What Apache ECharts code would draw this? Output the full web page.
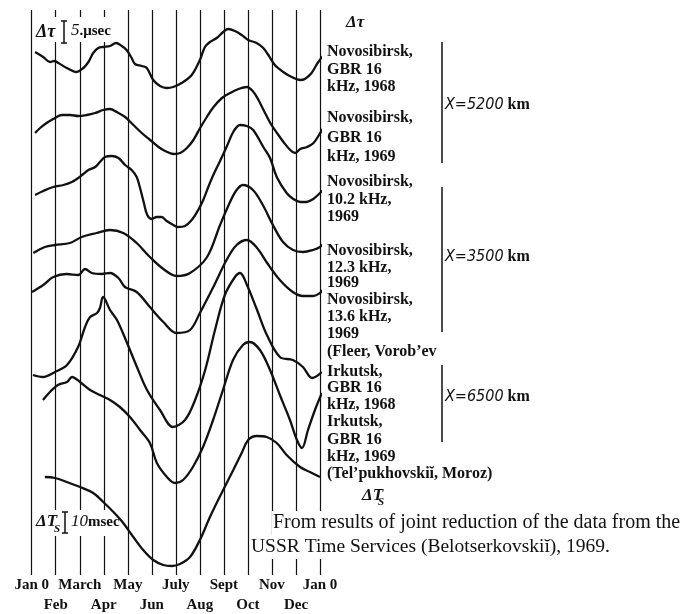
<!DOCTYPE html>
<html><head><meta charset="utf-8">
<script src="https://cdn.jsdelivr.net/npm/echarts/dist/echarts.min.js"></script>
<style>html,body{margin:0;padding:0;background:#fff}#c{width:692px;height:614px}</style>
</head><body><div id="c"></div>
<script>
// Month tick labels (Jan 0 .. Jan 0), x in months
const monthLabels = ['Jan 0','Feb','March','Apr','May','Jun','July','Aug','Sept','Oct','Nov','Dec','Jan 0'];

// Curves: [month, relative level] (arbitrary offset units, up = larger)
const novGBR1968 = [[0.14,523],[0.48,518],[0.76,513],[0.94,514],[1.11,512],[1.46,507],[1.87,503],[2.15,507],[2.36,513],[2.56,522],[2.77,527],[2.98,528],[3.26,529],[3.51,532],[3.75,529],[3.95,525],[4.16,517],[4.30,511],[4.58,509],[4.79,507],[5.06,495],[5.34,489],[5.62,487],[5.89,488],[6.24,492],[6.66,500],[7.00,515],[7.21,528],[7.42,533],[7.70,537],[7.97,543],[8.18,546],[8.46,544],[8.74,540],[9.01,535],[9.36,532],[9.64,527],[9.85,520],[10.12,510],[10.47,503],[10.82,498],[11.17,495],[11.37,496],[11.65,502],[11.93,513],[12.21,520],[12.29,520]];
const novGBR1969 = [[0.14,442],[0.35,447],[0.62,452],[0.90,456],[1.25,460],[1.60,460],[1.94,459],[2.29,460],[2.64,462],[2.98,465],[3.26,466],[3.54,463],[3.89,458],[4.23,450],[4.58,442],[4.93,435],[5.28,428],[5.55,424],[5.90,421],[6.18,422],[6.46,427],[6.73,435],[7.01,447],[7.29,458],[7.57,468],[7.92,477],[8.26,482],[8.61,486],[8.96,488],[9.23,483],[9.44,475],[9.65,465],[9.93,452],[10.21,442],[10.48,433],[10.76,425],[10.97,422],[11.18,426],[11.46,428],[11.73,432],[12.01,442],[12.22,450]];
const nov102 = [[0.14,380],[0.48,384],[0.90,388],[1.32,390],[1.67,393],[1.94,397],[2.15,401],[2.36,405],[2.64,408],[2.84,413],[3.05,418],[3.33,419],[3.61,417],[3.89,410],[4.16,405],[4.37,398],[4.51,387],[4.67,372],[4.81,360],[5.00,356],[5.20,358],[5.41,358],[5.62,354],[5.90,350],[6.10,348],[6.38,349],[6.66,355],[6.93,365],[7.14,375],[7.35,388],[7.56,400],[7.84,414],[8.11,428],[8.39,443],[8.67,450],[8.95,449],[9.22,445],[9.64,428],[9.92,417],[10.20,398],[10.61,382],[10.89,376],[11.17,373],[11.44,373],[11.72,376],[12.00,382],[12.21,387]];
const nov123 = [[0.07,322],[0.55,328],[0.97,330],[1.59,332],[2.08,338],[2.70,342],[3.26,345],[3.81,342],[4.37,332],[4.92,318],[5.48,306],[6.03,299],[6.59,302],[7.30,318],[7.84,350],[8.20,370],[8.50,384],[8.79,390],[9.21,385],[9.62,370],[10.04,350],[10.46,333],[10.88,325],[11.29,323],[11.71,325],[12.00,328],[12.16,332]];
const nov136 = [[0.01,283],[0.48,290],[0.90,298],[1.46,301],[1.94,300],[2.22,306],[2.50,302],[2.91,301],[3.26,302],[3.61,297],[3.88,288],[4.37,283],[4.92,268],[5.48,253],[6.03,242],[6.59,245],[7.00,262],[7.56,288],[8.11,315],[8.53,330],[8.96,335],[9.38,327],[9.80,312],[10.33,295],[10.87,283],[11.29,279],[11.71,279],[12.00,282],[12.12,285]];
const irk1968 = [[0.05,200],[0.47,198],[0.97,203],[1.47,210],[1.93,228],[2.22,248],[2.43,258],[2.72,262],[2.84,267],[2.97,278],[3.26,265],[3.55,255],[3.97,232],[4.38,208],[4.80,185],[5.34,165],[5.88,148],[6.38,155],[6.80,175],[7.22,205],[7.63,245],[8.04,280],[8.46,298],[8.67,302],[8.96,290],[9.38,265],[9.79,240],[10.33,218],[10.87,215],[11.29,208],[11.67,197],[12.08,203]];
const irk1969 = [[0.47,175],[0.76,183],[1.09,190],[1.47,193],[1.68,198],[2.01,193],[2.43,185],[2.84,180],[3.26,175],[3.67,168],[4.09,158],[4.51,145],[4.92,132],[5.21,112],[5.63,98],[5.96,92],[6.30,95],[6.71,108],[7.13,128],[7.55,155],[7.96,185],[8.38,215],[8.79,230],[9.08,233],[9.50,225],[9.92,205],[10.33,180],[10.75,155],[11.04,135],[11.25,127],[11.50,145],[11.79,165],[12.08,182]];
const deltaTs = [[0.55,98],[0.97,97],[1.46,93],[2.01,88],[2.56,82],[2.98,73],[3.40,63],[3.81,52],[4.23,38],[4.64,25],[5.06,15],[5.48,10],[5.83,9],[6.17,11],[6.59,18],[7.00,35],[7.42,58],[7.97,85],[8.39,105],[8.74,122],[9.01,135],[9.36,139],[9.78,138],[10.20,132],[10.61,120],[11.17,108],[11.58,103],[12.00,98]];

const curves = [novGBR1968, novGBR1969, nov102, nov123, nov136, irk1968, irk1969, deltaTs];

// Right-hand station labels (text, line)
const stationLines = ['Novosibirsk,','GBR 16','kHz, 1968','Novosibirsk,','GBR 16','kHz, 1969','Novosibirsk,','10.2 kHz,','1969','Novosibirsk,','12.3 kHz,','1969','Novosibirsk,','13.6 kHz,','1969','(Fleer, Vorob\u2019ev','Irkutsk,','GBR 16','kHz, 1968','Irkutsk,','GBR 16','kHz, 1969','(Tel\u2019pukhovski\u012d, Moroz)'];
const stationY = [52,70,87,118,138,157,182,200,217,251,268,283,300,317,334,352,372,388,405,422,440,457,474];
const distanceLabels = ['X=5200','X=3500','X=6500'];
const noteLines = ['From results of joint reduction of the data from the','USSR Time Services (Belotserkovski\u012d), 1969.'];

const chart = echarts.init(document.getElementById('c'), null, {renderer:'canvas'});
const serif = '"Liberation Serif", "Times New Roman", serif';
const ink = '#111';

const series = curves.map(d => ({
  type:'line', data:d, smooth:0.35, showSymbol:false, silent:true, z:3, xAxisIndex:0,
  lineStyle:{color:ink, width:2.3}
}));

const g = [];
stationLines.forEach((t,i)=>{
  g.push({type:'text', z:50, style:{text:t, x:327, y:stationY[i], font:'bold 16px '+serif, fill:ink, verticalAlign:'middle'}});
});
// distance bars
[[42,163,105],[187,332,257],[365,442,397]].forEach((b,i)=>{
  g.push({type:'line', z:50, shape:{x1:442,y1:b[0],x2:442,y2:b[1]}, style:{stroke:ink, lineWidth:1.5}});
  g.push({type:'text', z:50, style:{text:'{i|'+distanceLabels[i]+'}{k| km}', x:445, y:b[2], verticalAlign:'middle',
    rich:{i:{font:'italic 16px "Liberation Sans Narrow","DejaVu Sans Condensed","Liberation Sans",sans-serif', fill:ink}, k:{font:'bold 16px '+serif, fill:ink}}}});
});
// top label
g.push({type:'text', z:50, style:{text:'\u0394\u03c4', x:346, y:23, font:'italic bold 17px '+serif, fill:ink, verticalAlign:'middle'}});
// Δτ scale (white box hides grid lines, stays under the curves)
g.push({type:'rect', z:1, shape:{x:35,y:17,width:80,height:25}, style:{fill:'#fff'}});
g.push({type:'text', z:50, style:{text:'\u0394\u03c4', x:36, y:32, font:'italic bold 18px '+serif, fill:ink, verticalAlign:'middle'}});
g.push({type:'polyline', z:50, shape:{points:[[61,21],[67,21],[64,21],[64,43],[61,43],[67,43]]}, style:{stroke:ink, lineWidth:1.5, fill:null}});
g.push({type:'text', z:50, style:{text:'{i|5}.\u03bcsec', x:71, y:31, verticalAlign:'middle', rich:{i:{font:'italic 17px '+serif, fill:ink}}, font:'bold 15px '+serif, fill:ink}});
// ΔTs scale
g.push({type:'rect', z:1, shape:{x:35,y:510,width:82,height:26}, style:{fill:'#fff'}});
g.push({type:'text', z:50, style:{text:'\u0394T', x:36, y:522, font:'italic bold 17px '+serif, fill:ink, verticalAlign:'middle'}});
g.push({type:'text', z:50, style:{text:'S', x:54, y:529, font:'italic bold 11px '+serif, fill:ink, verticalAlign:'middle'}});
g.push({type:'polyline', z:50, shape:{points:[[62,512],[68,512],[65,512],[65,533],[62,533],[68,533]]}, style:{stroke:ink, lineWidth:1.5, fill:null}});
g.push({type:'text', z:50, style:{text:'{i|10}msec', x:71, y:522, verticalAlign:'middle', rich:{i:{font:'italic 17px '+serif, fill:ink}}, font:'bold 15px '+serif, fill:ink}});
// ΔTs right label
g.push({type:'text', z:50, style:{text:'\u0394T', x:362, y:496, font:'italic bold 17px '+serif, fill:ink, verticalAlign:'middle'}});
g.push({type:'text', z:50, style:{text:'S', x:378, y:502, font:'italic bold 11px '+serif, fill:ink, verticalAlign:'middle'}});
// note (white background breaks the grid lines like the original)
g.push({type:'text', z:1, style:{text:noteLines[0], x:272, y:523, font:'20px '+serif, fill:ink, verticalAlign:'middle', backgroundColor:'#fff', padding:[2,1]}});
g.push({type:'text', z:1, style:{text:noteLines[1], x:250, y:547, font:'19.5px '+serif, fill:ink, verticalAlign:'middle', backgroundColor:'#fff', padding:[2,1]}});

const labelStyle = {fontFamily:'"Liberation Serif", serif', fontSize:15, fontWeight:'bold', color:ink,
  showMinLabel:true, showMaxLabel:true, hideOverlap:false};

chart.setOption({
  animation:false,
  backgroundColor:'#fff',
  grid:{left:31.7, right:372, top:10, bottom:39},
  xAxis:[
    {type:'value', min:0, max:12, interval:1, position:'bottom',
     axisLine:{show:false}, axisTick:{show:false},
     splitLine:{show:true, showMinLine:true, showMaxLine:true, lineStyle:{color:ink, width:1.2}},
     axisLabel:Object.assign({margin:3, formatter:v=>{const i=Math.round(v); return i%2 ? '' : monthLabels[i];}}, labelStyle)},
    {type:'value', min:0, max:12, interval:1, position:'bottom', offset:0,
     axisLine:{show:false}, axisTick:{show:false}, splitLine:{show:false},
     axisLabel:Object.assign({margin:23, formatter:v=>{const i=Math.round(v); return i%2 ? monthLabels[i] : '';}}, labelStyle)}
  ],
  yAxis:{type:'value', min:0, max:565, show:false},
  series:series,
  graphic:g
});
</script></body></html>
